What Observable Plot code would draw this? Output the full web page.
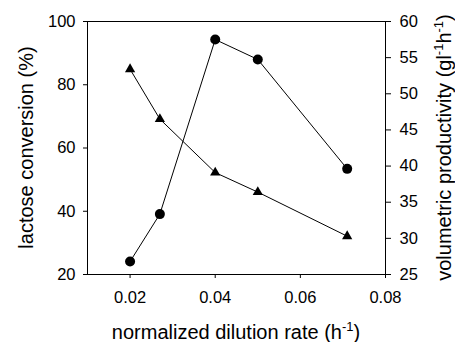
<!DOCTYPE html>
<html><head><meta charset="utf-8">
<script src="https://cdn.jsdelivr.net/npm/d3@7"></script>
<script src="https://cdn.jsdelivr.net/npm/@observablehq/plot@0.6"></script>
<style>
body{margin:0;background:#fff}
svg{font-family:"Liberation Sans",Arial,sans-serif}
</style>
</head><body><div id="chart"></div>
<script>
// data
const dilutionRate = [0.02, 0.027, 0.04, 0.05, 0.071];
const lactoseConversion = [24.1, 39.1, 94.3, 88.0, 53.4];   // left axis, circles
const volumetricProductivity = [53.4, 46.5, 39.1, 36.4, 30.3]; // right axis, triangles
const xTicks = [0.02, 0.04, 0.06, 0.08];
const leftTicks = [20, 40, 60, 80, 100];
const rightTicks = [25, 30, 35, 40, 45, 50, 55, 60];
const xDomain = [0.01, 0.08];
const leftDomain = [20, 100];
const rightDomain = [25, 60];

const toLeft = v => leftDomain[0] + (v - rightDomain[0]) * (leftDomain[1] - leftDomain[0]) / (rightDomain[1] - rightDomain[0]);
const fromLeft = v => rightDomain[0] + (v - leftDomain[0]) * (rightDomain[1] - rightDomain[0]) / (leftDomain[1] - leftDomain[0]);

const rows = dilutionRate.map((x, i) => ({x, conv: lactoseConversion[i], prod: volumetricProductivity[i]}));

const W = 455, H = 342, mL = 87, mR = 70, mT = 21, mB = 68;

const svg = Plot.plot({
  width: W, height: H,
  marginLeft: mL, marginRight: mR, marginTop: mT, marginBottom: mB,
  style: {fontSize: "16.5px", fontFamily: '"Liberation Sans", Arial, sans-serif', color: "#000", background: "#fff"},
  x: {domain: xDomain},
  y: {domain: leftDomain},
  marks: [
    Plot.frame({stroke: "#000", strokeWidth: 1}),
    Plot.axisX({ticks: xTicks, tickSize: 4, tickPadding: 13, tickFormat: d3.format(".2f"), label: null, stroke: "#000"}),
    Plot.axisY({ticks: leftTicks, tickSize: 4, tickPadding: 8, label: null}),
    Plot.axisY({anchor: "right", ticks: rightTicks.map(toLeft), tickFormat: d => String(Math.round(fromLeft(d))), tickSize: 5, tickPadding: 9, label: null}),
    Plot.line(rows, {x: "x", y: "conv", stroke: "#000", strokeWidth: 1}),
    Plot.dot(rows, {x: "x", y: "conv", r: 5, fill: "#000", stroke: "none", symbol: "circle"}),
    Plot.line(rows, {x: "x", y: d => toLeft(d.prod), stroke: "#000", strokeWidth: 1}),
    Plot.dot(rows, {x: "x", y: d => toLeft(d.prod), r: 3.8, fill: "#000", stroke: "none", symbol: "triangle"})
  ]
});

document.getElementById("chart").appendChild(svg);

const s = d3.select(svg);
const labelSize = 20;
const supSize = 13;
function addSup(t, base, sup) {
  t.append("tspan").text(base);
  t.append("tspan").attr("font-size", supSize).attr("dy", -8).text(sup);
  t.append("tspan").attr("dy", 8).text("");
}
// x title
const xt = s.append("text").attr("x", (mL + W - mR) / 2).attr("y", 339)
  .attr("text-anchor", "middle").attr("font-size", labelSize).attr("fill", "#000");
xt.append("tspan").text("normalized dilution rate (h");
xt.append("tspan").attr("font-size", supSize).attr("dy", -8).text("-1");
xt.append("tspan").attr("dy", 8).text(")");

// left title
s.append("text").attr("transform", `translate(33,${(mT + H - mB) / 2}) rotate(-90)`)
  .attr("text-anchor", "middle").attr("font-size", labelSize).attr("fill", "#000")
  .text("lactose conversion (%)");

// right title
const rt = s.append("text").attr("transform", `translate(451,${(mT + H - mB) / 2}) rotate(-90)`)
  .attr("text-anchor", "middle").attr("font-size", labelSize).attr("fill", "#000");
rt.append("tspan").text("volumetric productivity (gl");
rt.append("tspan").attr("font-size", supSize).attr("dy", -8).text("-1");
rt.append("tspan").attr("dy", 8).text("h");
rt.append("tspan").attr("font-size", supSize).attr("dy", -8).text("-1");
rt.append("tspan").attr("dy", 8).text(")");
</script>
</body></html>
